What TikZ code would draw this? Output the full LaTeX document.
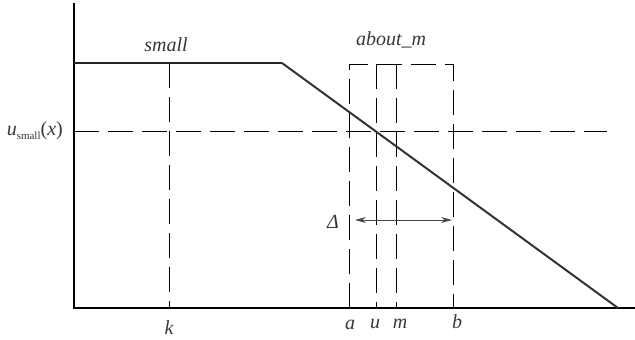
\documentclass[tikz,border=0pt]{standalone}
\usepackage{fontspec}
\setmainfont{Liberation Serif}
\usetikzlibrary{arrows.meta}
\begin{document}
\begin{tikzpicture}[x=1pt,y=-1pt,
  axis/.style={line width=1.3pt,black},
  dline/.style={line width=1pt,black,dash pattern=on 25pt off 9pt},
  curve/.style={line width=2pt,black!80},
  lbl/.style={font=\fontsize{20}{20}\selectfont\itshape,text=black!78,inner sep=0pt},
  dimarrow/.style={line width=1pt,black!72,{Stealth[length=11pt,width=6pt]}-{Stealth[length=11pt,width=6pt]}}]
\useasboundingbox (0,0) rectangle (635,340);
% coordinates
\coordinate (o) at (74,308);
\coordinate (ytop) at (74,3);
\coordinate (xend) at (635,308);
\coordinate (p0) at (74,63);
\coordinate (p1) at (282,63);
\coordinate (p2) at (618,308);
\coordinate (h0) at (74,131);
\coordinate (h1) at (607,131);
\coordinate (k0) at (169,63);
\coordinate (k1) at (169,308);
\coordinate (a0) at (349,64);
\coordinate (a1) at (349,308);
\coordinate (b0) at (453,64);
\coordinate (b1) at (453,308);
\coordinate (u0) at (376,64);
\coordinate (u1) at (376,308);
\coordinate (m0) at (396,64);
\coordinate (m1) at (396,308);
\coordinate (d0) at (355,220);
\coordinate (d1) at (452,220);
% dashed helpers
\draw[dline] (h0) -- (h1);
\draw[dline] (k0) -- (k1);
\draw[dline] (a1) -- (a0) -- (b0) -- (b1);
\draw[dline] (u0) -- (u1);
\draw[dline] (m0) -- (m1);
% axes
\draw[axis] (ytop) -- (o) -- (xend);
% membership function
\draw[line width=2.4pt,black!85] (p0) -- (p1);
\draw[curve] (p1) -- (p2);
% interval arrow
\draw[dimarrow] (d0) -- (d1);
% labels
\node[lbl] (small) at (166,45) {small};
\node[lbl] (about) at (391,40) {about\_m};
\node[lbl,anchor=east] (us) at (63,131) {u{\upshape\fontsize{11}{11}\selectfont\raisebox{-3.5pt}{small}}{\upshape(}x{\upshape)}};
\node[lbl] (delta) at (333,222) {Δ};
\node[lbl] (k) at (169,328) {k};
\node[lbl] (a) at (350,325) {a};
\node[lbl] (u) at (375,324) {u};
\node[lbl] (m) at (400,324) {m};
\node[lbl] (b) at (457,322) {b};
\end{tikzpicture}
\end{document}
